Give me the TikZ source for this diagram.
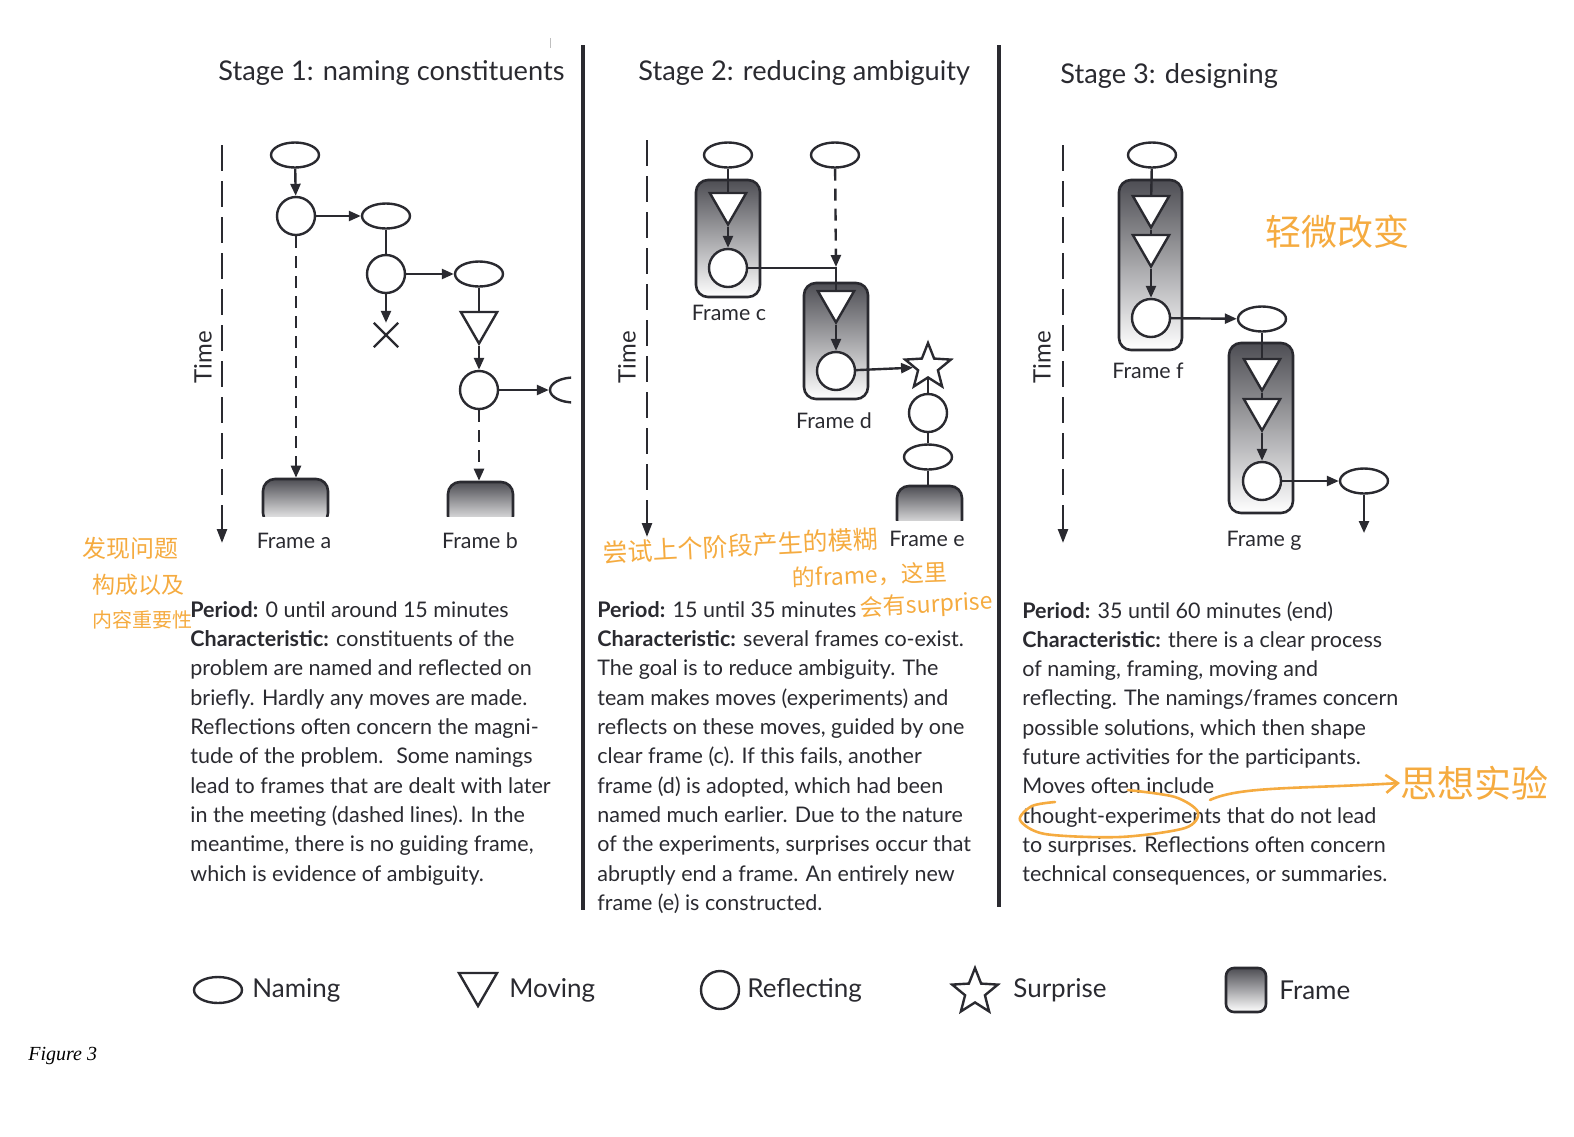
\documentclass[tikz,border=0pt]{standalone}
\usepackage{fontspec}
\setmainfont{Lato}
\newfontfamily\cjk{Noto Sans CJK SC}
\newfontfamily\capfont{Liberation Serif}
\usetikzlibrary{arrows.meta,positioning,calc,shapes.geometric,shapes.misc}

\definecolor{ink}{HTML}{2A2A30}
\definecolor{shadetop}{HTML}{4E4E54}
\definecolor{scribble}{HTML}{F5AB40}

\tikzset{
  naming/.style={ellipse, draw=ink, fill=white, line width=1.2pt, minimum width=24pt, minimum height=12.5pt, inner sep=0pt},
  moving/.style={regular polygon, regular polygon sides=3, shape border rotate=180, draw=ink, fill=white, line width=1.2pt, minimum size=21pt, inner sep=0pt},
  reflecting/.style={circle, draw=ink, fill=white, line width=1.2pt, minimum size=19pt, inner sep=0pt},
  surprise/.style={star, star points=5, star point ratio=2.3, draw=ink, fill=white, line width=1.2pt, minimum size=24pt, inner sep=0pt},
  framebox/.style={rectangle, rounded corners=6pt, draw=ink, line width=1.3pt, top color=shadetop, bottom color=white, inner sep=0pt},
  link/.style={draw=ink, line width=1.2pt},
  flow/.style={link, -{Triangle[length=6pt,width=5pt]}},
  later/.style={flow, dash pattern=on 6pt off 4pt},
  timeline/.style={link, dash pattern=on 13pt off 5pt, -{Triangle[length=7pt,width=5pt]}},
  stagetitle/.style={anchor=base west, font=\fontsize{13.6}{16}\selectfont, text=ink, inner sep=0pt},
  timelabel/.style={rotate=90, font=\fontsize{12}{14}\selectfont, text=ink},
  label/.style={font=\fontsize{10.7}{12}\selectfont, text=ink},
  body/.style={anchor=north west, align=left, font=\fontsize{10.75}{14.65}\selectfont, text=ink, inner sep=0pt},
  key/.style={anchor=west, font=\fontsize{13}{15}\selectfont, text=ink, inner sep=0pt},
  note/.style={anchor=west, text=scribble, inner sep=0pt},
}

\begin{document}
\begin{tikzpicture}[x=0.5pt,y=-0.5pt]
  \useasboundingbox (0,0) rectangle (1574,1136);

  % Titles and separators
  \node[stagetitle] (title1) at (218,80) {Stage 1: naming constituents};
  \node[stagetitle] (title2) at (638,80) {Stage 2: reducing ambiguity};
  \node[stagetitle] (title3) at (1060,83) {Stage 3: designing};
  \draw[ink, line width=1.8pt] (583,45) -- (583,910);
  \draw[ink, line width=1.8pt] (999,45) -- (999,907);
  \draw[gray!50, line width=0.4pt] (550,38) -- (550,48);

  % Stage 1
  \coordinate (t1s) at (222,145);
  \coordinate (t1e) at (222,543);
  \draw[timeline] (t1s) -- (t1e);
  \node[timelabel] (time1) at (203,357) {Time};
  \node[naming] (n1) at (295,155) {};
  \node[reflecting] (r1) at (296,216) {};
  \node[naming] (n2) at (386,216) {};
  \node[reflecting] (r2) at (386,274) {};
  \node[cross out, draw=ink, line width=1.2pt, minimum size=11pt, inner sep=0pt] (stop1) at (386,335) {};
  \node[naming] (n3) at (479,274) {};
  \node[moving] (m1) at (479,322.5) {};
  \node[reflecting] (r3) at (479,390) {};
  \begin{scope}
    \clip (530,370) rectangle (571,410);
    \node[naming] (n4) at (574,390) {};
  \end{scope}
  \begin{scope}
    \clip (240,470) rectangle (350,516.5);
    \node[framebox, minimum width=32.5pt, minimum height=23pt] (framea) at (295.5,502) {};
  \end{scope}
  \begin{scope}
    \clip (430,470) rectangle (530,516.5);
    \node[framebox, minimum width=32.5pt, minimum height=23pt] (frameb) at (480.5,505) {};
  \end{scope}
  \node[label] (la) at (294,541) {Frame a};
  \node[label] (lb) at (480,541) {Frame b};
  \draw[flow] (n1) -- (r1);
  \draw[flow] (r1) -- (n2);
  \draw[later] (r1) -- (r1 |- framea.north);
  \draw[link] (n2) -- (r2);
  \draw[flow] (r2) -- (stop1);
  \draw[flow] (r2) -- (n3);
  \draw[link] (n3) -- (m1);
  \draw[flow] (m1) -- (r3);
  \draw[flow] (r3) -- (n4);
  \draw[later] (r3) -- (r3 |- frameb.north);

  % Stage 2
  \coordinate (t2s) at (647,140);
  \coordinate (t2e) at (647,537);
  \draw[timeline] (t2s) -- (t2e);
  \node[timelabel] (time2) at (627,357) {Time};
  \node[naming] (n5) at (728,155) {};
  \node[naming] (n6) at (835,155) {};
  \node[framebox, minimum width=32pt, minimum height=58.5pt] (framec) at (728,238.5) {};
  \node[moving] (m2) at (728,203.5) {};
  \node[reflecting] (r4) at (728,268) {};
  \node[framebox, minimum width=32pt, minimum height=58pt] (framed) at (836,341) {};
  \node[moving] (m3) at (836,301.5) {};
  \node[reflecting] (r5) at (836,371) {};
  \node[surprise] (s1) at (928,367) {};
  \node[reflecting] (r6) at (928,413) {};
  \node[naming] (n7) at (928,457) {};
  \begin{scope}
    \clip (880,475) rectangle (980,520);
    \node[framebox, minimum width=32.5pt, minimum height=23pt] (framee) at (929.5,509) {};
  \end{scope}
  \coordinate (join) at (836,267);
  \node[label] (lc) at (729,313) {Frame c};
  \node[label] (ld) at (834,421) {Frame d};
  \node[label] (le) at (927,539) {Frame e};
  \draw[link] (n5) -- (m2);
  \draw[flow] (m2) -- (r4);
  \draw[link] (r4) -| (m3);
  \draw[later] (n6) -- (join);
  \draw[flow] (m3) -- (r5);
  \draw[flow] (r5) -- (s1);
  \draw[link] (s1) -- (r6);
  \draw[link] (r6) -- (n7);
  \draw[link] (n7) -- (n7 |- framee.north);

  % Stage 3
  \coordinate (t3s) at (1063,145);
  \coordinate (t3e) at (1063,543);
  \draw[timeline] (t3s) -- (t3e);
  \node[timelabel] (time3) at (1042,357) {Time};
  \node[naming] (n8) at (1152,155) {};
  \node[framebox, minimum width=31.5pt, minimum height=85pt] (framef) at (1150.5,265) {};
  \node[moving] (m4) at (1151,206.5) {};
  \node[moving] (m5) at (1151,245.5) {};
  \node[reflecting] (r7) at (1151,318) {};
  \node[naming] (n9) at (1262,319) {};
  \node[framebox, minimum width=32pt, minimum height=85pt] (frameg) at (1261,428) {};
  \node[moving] (m6) at (1262,369.5) {};
  \node[moving] (m7) at (1262,409.5) {};
  \node[reflecting] (r8) at (1262,481) {};
  \node[naming] (n10) at (1364,481) {};
  \coordinate (end3) at (1364,533);
  \node[label] (lf) at (1148,371) {Frame f};
  \node[label] (lg) at (1264,541) {Frame g};
  \draw[link] (n8) -- (m4);
  \draw[link] (m4) -- (m5);
  \draw[flow] (m5) -- (r7);
  \draw[flow] (r7) -- (n9);
  \draw[link] (n9) -- (m6);
  \draw[link] (m6) -- (m7);
  \draw[flow] (m7) -- (r8);
  \draw[flow] (r8) -- (n10);
  \draw[flow] (n10) -- (end3);

  % Descriptions
  \node[body] (text1) at (190,601) {\textbf{Period:} 0 until around 15 minutes\\
    \textbf{Characteristic:} constituents of the\\
    problem are named and reflected on\\
    briefly. Hardly any moves are made.\\
    Reflections often concern the magni-\\
    tude of the problem.~ Some namings\\
    lead to frames that are dealt with later\\
    in the meeting (dashed lines). In the\\
    meantime, there is no guiding frame,\\
    which is evidence of ambiguity.};
  \node[body] (text2) at (597,601) {\textbf{Period:} 15 until 35 minutes\\
    \textbf{Characteristic:} several frames co-exist.\\
    The goal is to reduce ambiguity. The\\
    team makes moves (experiments) and\\
    reflects on these moves, guided by one\\
    clear frame (c). If this fails, another\\
    frame (d) is adopted, which had been\\
    named much earlier. Due to the nature\\
    of the experiments, surprises occur that\\
    abruptly end a frame. An entirely new\\
    frame (e) is constructed.};
  \node[body] (text3) at (1022,601) {\textbf{Period:} 35 until 60 minutes (end)\\
    \textbf{Characteristic:} there is a clear process\\
    of naming, framing, moving and\\
    reflecting. The namings/frames concern\\
    possible solutions, which then shape\\
    future activities for the participants.\\
    Moves often include\\
    thought-experiments that do not lead\\
    to surprises. Reflections often concern\\
    technical consequences, or summaries.};

  % Legend
  \node[naming, minimum width=24pt, minimum height=13pt] (kn) at (218,990) {};
  \node[key] (kntext) at (252,990) {Naming};
  \node[moving, minimum size=22pt] (km) at (478,984) {};
  \node[key] (kmtext) at (509,990) {Moving};
  \node[reflecting] (kr) at (720,990) {};
  \node[key] (krtext) at (747,990) {Reflecting};
  \node[surprise] (ks) at (975,992) {};
  \node[key] (kstext) at (1013,990) {Surprise};
  \node[framebox, rounded corners=4pt, minimum width=20pt, minimum height=22pt] (kf) at (1246,990) {};
  \node[key] (kftext) at (1279,990) {Frame};

  \node[anchor=west, inner sep=0pt, font=\capfont\itshape\fontsize{10}{12}\selectfont] (fig) at (28,1056) {Figure 3};

  % handwritten notes
  \node[note, font=\cjk\fontsize{12}{14}\selectfont] (note1a) at (82,548) {发现问题};
  \node[note, font=\cjk\fontsize{11.5}{14}\selectfont] (note1b) at (92,585) {构成以及};
  \node[note, font=\cjk\fontsize{10}{12}\selectfont] (note1c) at (92,620) {内容重要性};
  \node[note, rotate=3, font=\cjk\fontsize{12.5}{15}\selectfont] (note2a) at (603,553) {尝试上个阶段产生的模糊};
  \node[note, rotate=2, font=\cjk\fontsize{11.5}{13}\selectfont] (note2b) at (792,578) {的frame，这里};
  \node[note, rotate=3, font=\cjk\fontsize{11.5}{13}\selectfont] (note2c) at (860,609) {会有surprise};
  \node[note, font=\cjk\fontsize{18}{20}\selectfont] (note3) at (1265,232) {轻微改变};
  \node[note, font=\cjk\fontsize{18.5}{21}\selectfont] (note4) at (1400,783) {思想实验};
  \coordinate (loopstart) at (1210,800);
  \draw[scribble, line width=1.3pt, line cap=round, -{Straight Barb[length=6pt,width=9pt]}]
    (loopstart) .. controls (1240,786) and (1300,789) .. (note4.west);
  \draw[scribble, line width=1.3pt, line cap=round] plot[smooth] coordinates
    {(1128,790) (1175,797) (1198,812) (1185,828) (1120,837) (1045,834) (1020,820) (1032,806) (1055,802)};
\end{tikzpicture}
\end{document}
